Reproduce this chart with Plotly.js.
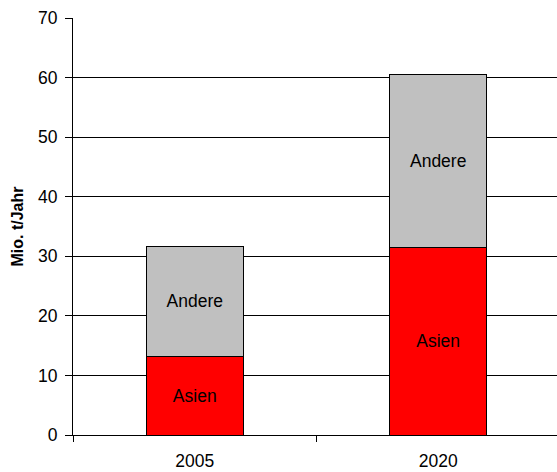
<!DOCTYPE html>
<html>
<head>
<meta charset="utf-8">
<script src="https://cdn.plot.ly/plotly-3.0.1.min.js"></script>
<style>
  html, body { margin: 0; padding: 0; background: #fff; }
  #chart { width: 557px; height: 472px; }
</style>
</head>
<body>
<div id="chart"></div>
<script>
// Jahre und Mengen in Mio. t/Jahr
const years = ['2005', '2020'];
const asien = [13.2, 31.4];
const andere = [18.5, 29.2];
const seriesNames = ['Asien', 'Andere'];
const yTicks = [0, 10, 20, 30, 40, 50, 60, 70];

const font = 'Liberation Sans, Arial, sans-serif';
const labelSize = 17.5;

function barTrace(name, values, color) {
  return {
    type: 'bar',
    name: name,
    x: years,
    y: values,
    width: 0.4,
    marker: { color: color, line: { color: '#000', width: 1 } },
    text: values.map(() => name),
    textposition: 'inside',
    insidetextanchor: 'middle',
    textangle: 0,
    textfont: { family: font, size: labelSize, color: '#000' },
    hoverinfo: 'skip'
  };
}

const data = [
  barTrace(seriesNames[0], asien, '#FF0000'),
  barTrace(seriesNames[1], andere, '#C0C0C0')
];

const layout = {
  width: 557,
  height: 472,
  margin: { l: 73, r: 0, t: 18, b: 37, pad: 0 },
  barmode: 'stack',
  showlegend: false,
  paper_bgcolor: '#fff',
  plot_bgcolor: '#fff',
  font: { family: font, size: labelSize, color: '#000' },
  xaxis: {
    type: 'category',
    range: [-0.5, 1.488],
    tickson: 'boundaries',
    ticks: 'outside',
    ticklen: 6,
    tickcolor: '#000',
    tickwidth: 1,
    ticklabelstandoff: 10,
    showline: true,
    linecolor: '#000',
    linewidth: 1,
    showgrid: false,
    zeroline: false,
    tickfont: { family: font, size: labelSize, color: '#000' }
  },
  yaxis: {
    range: [0, 70],
    tickvals: yTicks,
    ticktext: yTicks.map(String),
    ticks: 'outside',
    ticklen: 7,
    tickcolor: '#000',
    tickwidth: 1,
    ticklabelstandoff: 4,
    showline: true,
    linecolor: '#000',
    linewidth: 1,
    showgrid: true,
    gridcolor: '#000',
    gridwidth: 1,
    zeroline: false,
    tickfont: { family: font, size: labelSize, color: '#000' },
    title: {
      text: '<b>Mio. t/Jahr</b>',
      font: { family: font, size: 16, color: '#000' },
      standoff: 10
    }
  }
};

Plotly.newPlot('chart', data, layout, { staticPlot: true, displayModeBar: false });
</script>
</body>
</html>
